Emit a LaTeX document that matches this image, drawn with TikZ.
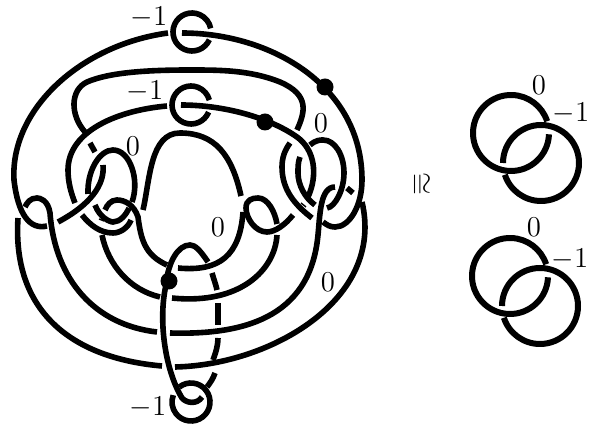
\documentclass[tikz,border=0pt]{standalone}
\usepackage{amsmath,amssymb}
\usepackage{tikz}
\usetikzlibrary{positioning,calc}
\tikzset{
  strand/.style={line width=2.8pt},
  ringlink/.style={line width=3pt},
  framing/.style={font=\fontsize{14}{14}\selectfont, inner sep=0pt},
  basedot/.style={circle, fill=black, minimum size=8.5pt, inner sep=0pt}
}
\begin{document}
\begin{tikzpicture}[x=0.5pt, y=-0.5pt]
  \useasboundingbox (0,0) rectangle (589,426);

  % meridian circles
  \draw[strand] (192,32) ++(24:19) arc[start angle=24, end angle=349, radius=19];
  \draw[strand] (191,105) ++(22:19) arc[start angle=22, end angle=345, radius=19];
  \draw[strand] (191,402) ++(232:19) arc[start angle=232, end angle=561, radius=19];

  % first band
  \draw[strand] (182,33) .. controls (270,33) and (362,85) .. (362,180) .. controls (362,205) and (350,227) .. (335,227) .. controls (330,227) and (327,225) .. (323,222);
  \draw[strand] (312,218) .. controls (295,205) and (282,190) .. (282,167) .. controls (282,157) and (285,150) .. (290,143);
  \draw[strand] (297,130) .. controls (305,112) and (310,95) .. (280,82) .. controls (250,70) and (220,70) .. (190,70) .. controls (150,70) and (110,72) .. (87,82) .. controls (70,90) and (70,115) .. (85,132);
  \draw[strand] (90,143) -- (95,152);
  \draw[strand] (103,165) .. controls (105,185) and (90,205) .. (58,222);
  \draw[strand] (47,226) .. controls (30,230) and (18,215) .. (14,180) .. controls (10,110) and (80,45) .. (168,33);

  % second band
  \draw[strand] (181,105) .. controls (225,105) and (270,118) .. (297,137) .. controls (315,150) and (318,175) .. (308,197);
  \draw[strand] (293,215) .. controls (285,225) and (275,232) .. (267,232) .. controls (255,232) and (246,218) .. (246,208) .. controls (246,200) and (252,198) .. (258,198) .. controls (268,198) and (275,212) .. (277,224);
  \draw[strand] (172,298) .. controls (240,305) and (275,270) .. (277,235);
  \draw[strand] (160,297) .. controls (130,290) and (108,265) .. (102,235);
  \draw[strand] (167,265) .. controls (145,255) and (141,240) .. (138,217) .. controls (134,205) and (125,200) .. (117,200) .. controls (111,200) and (107,205) .. (105,210);
  \draw[strand] (178,268) .. controls (220,272) and (240,255) .. (243,212);
  \draw[strand] (143,210) .. controls (150,180) and (150,133) .. (180,133) .. controls (215,133) and (232,155) .. (241,196);
  \draw[strand] (131,220) .. controls (128,228) and (120,233) .. (113,233) .. controls (100,233) and (90,225) .. (82,215);
  \draw[strand] (167,106) .. controls (120,110) and (68,130) .. (68,170) .. controls (68,182) and (71,193) .. (75,203);

  % zero framed circles
  \draw[strand] (132,202) .. controls (140,180) and (130,150) .. (113,150) .. controls (100,150) and (87,170) .. (88,194);
  \draw[strand] (95,205) .. controls (100,218) and (110,222) .. (113,222) .. controls (120,222) and (126,215) .. (129,208);
  \draw[strand] (310,145) .. controls (316,140) and (320,140) .. (323,140) .. controls (335,140) and (344,155) .. (344,173) .. controls (344,190) and (335,207) .. (327,208);
  \draw[strand] (315,205) .. controls (305,198) and (298,185) .. (298,173) .. controls (298,167) and (298,162) .. (300,157);
  \draw[line width=0.7pt] (301,203) -- (306,207);
  \draw[line width=0.7pt] (99,219) -- (104,221);

  % third band
  \draw[strand] (335,187) .. controls (320,187) and (320,215) .. (318,235) .. controls (310,320) and (240,335) .. (170,333);
  \draw[strand] (157,332) .. controls (95,325) and (55,280) .. (50,213) .. controls (48,200) and (40,198) .. (37,198) .. controls (30,198) and (27,203) .. (25,207);
  \draw[strand] (18,218) .. controls (12,310) and (70,358) .. (162,366);
  \draw[strand] (175,367) .. controls (270,365) and (385,300) .. (362,202);
  \draw[strand] (347,188) -- (353,193);

  % vertical loop
  \draw[strand] (208,262) .. controls (200,250) and (195,245) .. (190,245) .. controls (178,245) and (168,262) .. (166,285) .. controls (158,320) and (165,370) .. (182,398) .. controls (186,403) and (197,405) .. (202,397);
  \draw[strand] (212,273) .. controls (214,280) and (216,285) .. (217,290);
  \draw[strand] (218,303) -- (218,325);
  \draw[strand] (218,338) .. controls (218,345) and (216,352) .. (213,360);
  \draw[strand] (215,373) .. controls (213,379) and (210,383) .. (207,387);

  % base points
  \node[basedot] (dota) at (325,87) {};
  \node[basedot] (dotb) at (265,122) {};
  \node[basedot] (dotc) at (169,281) {};

  % result links
  \draw[ringlink] (511,133) ++(2:38) arc[start angle=2, end angle=342, radius=38];
  \draw[ringlink] (541,163) ++(180:38) arc[start angle=180, end angle=522, radius=38];
  \draw[ringlink] (510,276) ++(2:38) arc[start angle=2, end angle=342, radius=38];
  \draw[ringlink] (540,306) ++(180:38) arc[start angle=180, end angle=522, radius=38];

  % labels
  \node[framing] (topm) at (149,17) {$-1$};
  \node[framing] (midm) at (145,91) {$-1$};
  \node[framing] (botm) at (148,407) {$-1$};
  \node[framing] (zeroa) at (133,146) {$0$};
  \node[framing] (zerob) at (321,123) {$0$};
  \node[framing] (zeroc) at (218,227) {$0$};
  \node[framing] (zerod) at (328,282) {$0$};
  \node[framing] (zeroe) at (539,85) {$0$};
  \node[framing] (zerof) at (534,227) {$0$};
  \node[framing] (onea) at (571,113) {$-1$};
  \node[framing] (oneb) at (570,259) {$-1$};
  \node[framing, rotate=-90] (iso) at (420,184) {\fontsize{15}{15}\selectfont$\cong$};
\end{tikzpicture}
\end{document}
